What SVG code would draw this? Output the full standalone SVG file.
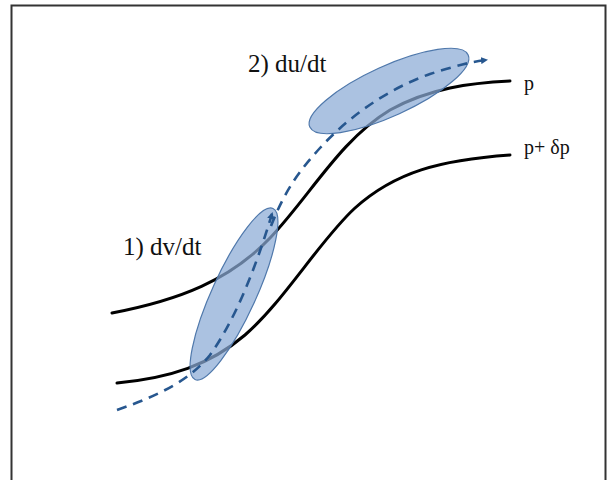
<svg xmlns="http://www.w3.org/2000/svg" width="608" height="480" viewBox="0 0 608 480">
<style>
.frame{fill:#fff;stroke:#333;stroke-width:2}
.curve{fill:none;stroke:#000;stroke-width:3;stroke-linecap:round}
.blob{fill:#8aabd6;fill-opacity:0.72;stroke:#4f78ab;stroke-width:1.2}
.dash{fill:none;stroke:#27578f;stroke-width:2.6;stroke-dasharray:10 7}
.lbl{font-family:"Liberation Serif","Times New Roman",serif;fill:#111}
</style>
<defs>
<marker id="ah" markerWidth="8" markerHeight="8" refX="5" refY="4" orient="auto" markerUnits="userSpaceOnUse">
<path d="M0,0.5 L7,4 L0,7.5 Z" fill="#27578f"/>
</marker>
</defs>
<rect class="frame" x="11.5" y="5.5" width="594" height="480"/>
<g id="curves">
<path id="p-curve" class="curve" d="M112,313 C180,300 230,280 270,238 C310,196 340,140 390,110 C430,88 470,83 510,81"/>
<path id="dp-curve" class="curve" d="M117,383 C170,378 210,365 245,335 C285,300 320,240 355,208 C395,172 440,160 510,155"/>
</g>
<g id="ellipse1"><ellipse class="blob" cx="234" cy="294" rx="94" ry="22" transform="rotate(-65.5 234 294)"/></g>
<g id="ellipse2"><ellipse class="blob" cx="389" cy="91" rx="87" ry="25" transform="rotate(-24.5 389 91)"/></g>
<g id="connectors">
<path class="dash" d="M117,410 C160,395 190,380 210,355 C235,320 255,270 272,214" marker-end="url(#ah)"/>
<path class="dash" d="M271,226 C285,190 300,170 320,148 C350,115 390,88 430,74 C455,66 470,62 486,60" marker-end="url(#ah)"/>
</g>
<g id="labels">
<text class="lbl" x="248" y="72" font-size="25">2) du/dt</text>
<text class="lbl" x="123" y="255" font-size="25">1) dv/dt</text>
<text class="lbl" x="524" y="90" font-size="20">p</text>
<text class="lbl" x="524" y="154" font-size="20">p+ δp</text>
</g>
</svg>
